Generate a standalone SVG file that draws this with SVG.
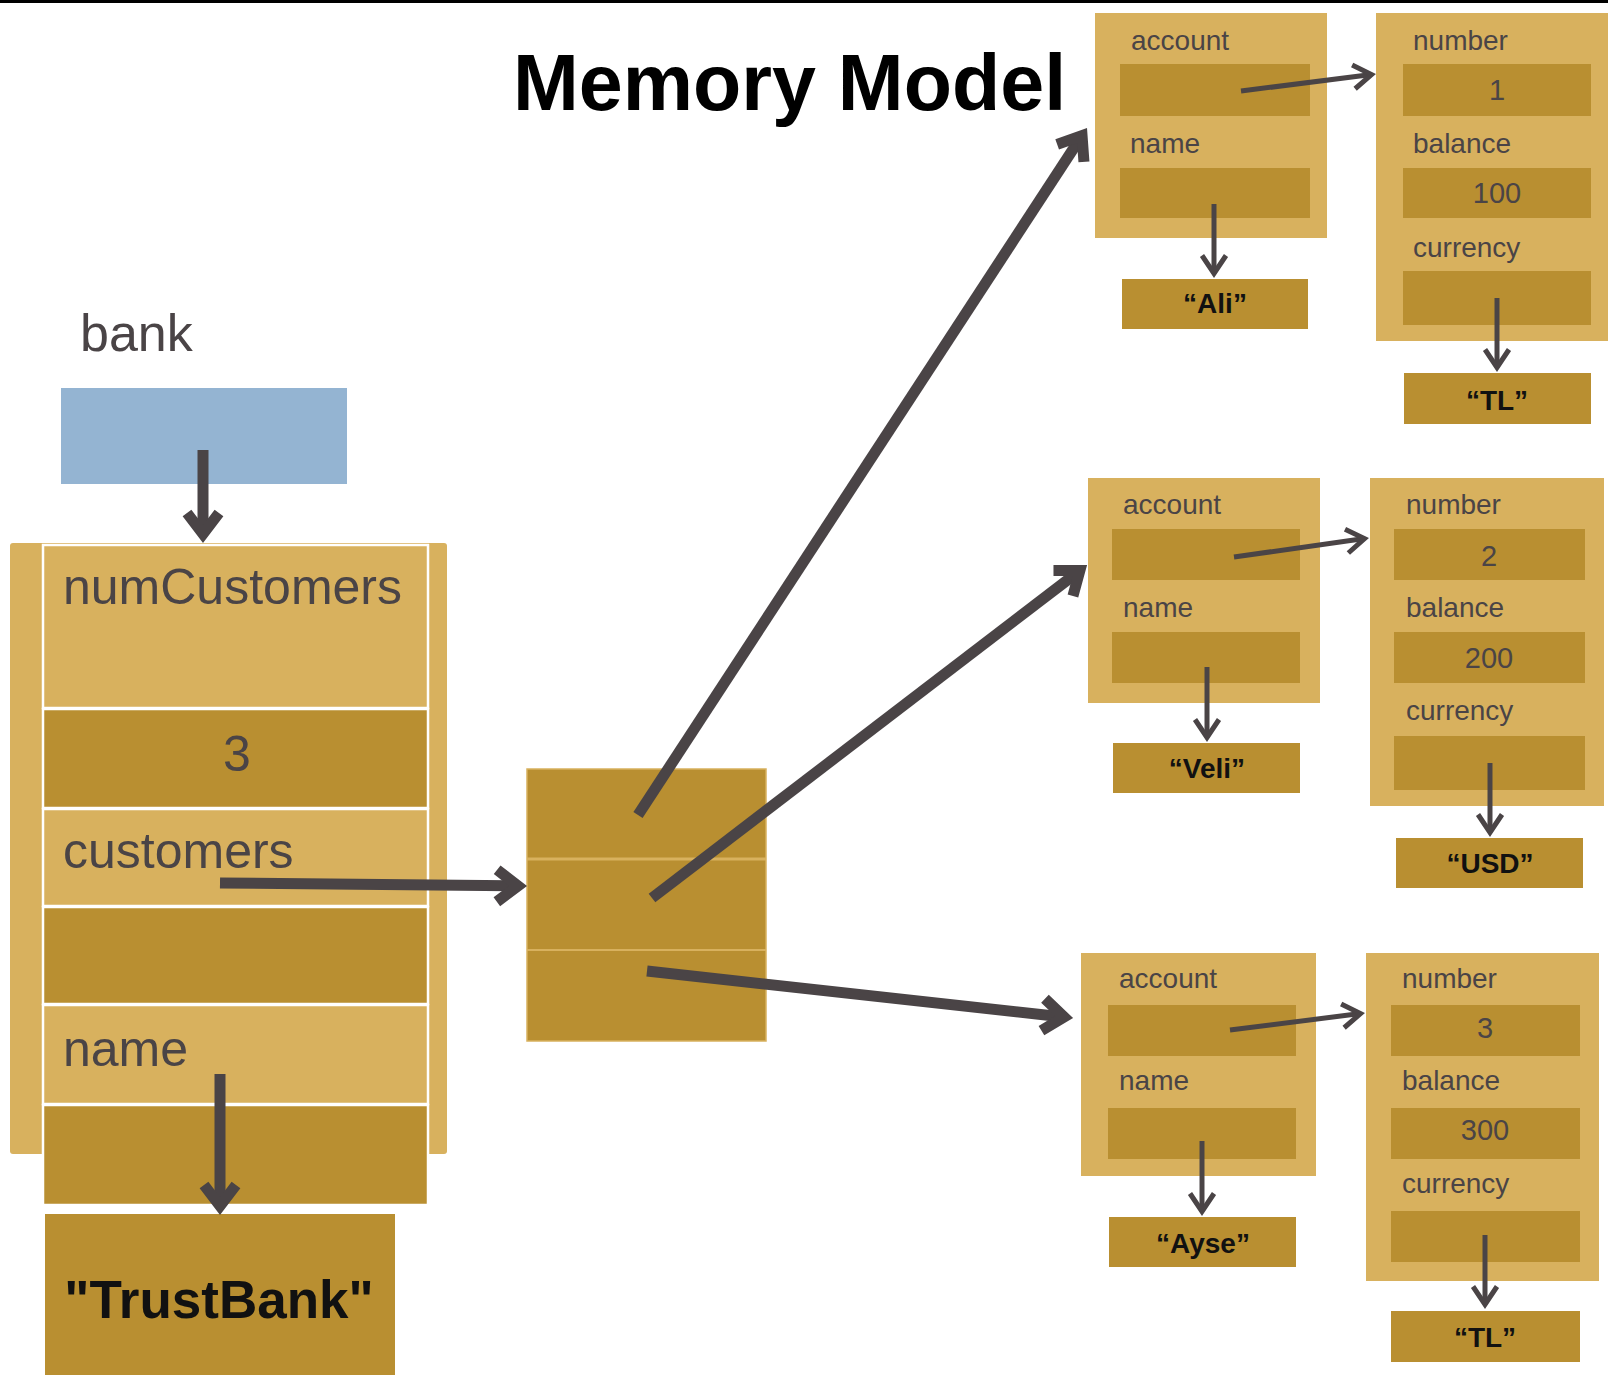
<svg xmlns="http://www.w3.org/2000/svg" width="1608" height="1375" viewBox="0 0 1608 1375">
  <style>
    .lt { fill: #D8B15E; }
    .dk { fill: #B98F31; }
    .cell { stroke: #FFFFFF; stroke-width: 2.5; }
    .lbl { font-family: "Liberation Sans", Arial, sans-serif; fill: #4A4446; }
    .sm { font-size: 28px; }
    .big { font-size: 50px; }
    .str { font-family: "Liberation Sans", Arial, sans-serif; font-weight: bold; fill: #111111; text-anchor: middle; font-size: 28px; }
    .str.huge { font-size: 53px; }
    .val { text-anchor: middle; font-size: 29px; }
    .thick { fill: none; stroke: #4A4446; stroke-width: 11; }
    .thin { fill: none; stroke: #4A4446; stroke-width: 5; }
  </style>
  <defs>
    <!-- heavy chevron head; its point sits 12px past the end of the line -->
    <marker id="headThick" markerUnits="userSpaceOnUse" viewBox="-30 -30 60 60" markerWidth="60" markerHeight="60" refX="0" refY="0" orient="auto" overflow="visible">
      <path d="M-18,-16 L3,0 L-18,16" fill="none" stroke="#4A4446" stroke-width="11" stroke-linejoin="miter"/>
    </marker>
    <!-- light open chevron head; its point sits 4.5px past the end of the line -->
    <marker id="headThin" markerUnits="userSpaceOnUse" viewBox="-30 -30 60 60" markerWidth="60" markerHeight="60" refX="0" refY="0" orient="auto" overflow="visible">
      <path d="M-18,-12 L0,0 L-18,12" fill="none" stroke="#4A4446" stroke-width="5" stroke-linejoin="miter"/>
    </marker>
  </defs>

  <rect x="0" y="0" width="1608" height="1375" fill="#FFFFFF"/>
  <rect x="0" y="0" width="1608" height="3" fill="#000000"/>

  <text x="513" y="110" font-family="'Liberation Sans', Arial, sans-serif" font-weight="bold" font-size="79" fill="#000000">Memory Model</text>

  <!-- bank variable -->
  <g id="bank">
    <text class="lbl" x="80" y="351" font-size="52">bank</text>
    <rect x="61" y="388" width="286" height="96" fill="#94B4D2"/>
  </g>

  <!-- Bank object -->
  <g id="bank-object">
    <rect class="lt" x="10" y="543" width="437" height="611" rx="3"/>
    <rect class="lt cell" x="43" y="545" width="385" height="163"/>
    <rect class="dk cell" x="43" y="709" width="385" height="99"/>
    <rect class="lt cell" x="43" y="809" width="385" height="97"/>
    <rect class="dk cell" x="43" y="907" width="385" height="97"/>
    <rect class="lt cell" x="43" y="1005" width="385" height="99"/>
    <rect class="dk cell" x="43" y="1105" width="385" height="100"/>
    <text class="lbl big" x="63" y="604">numCustomers</text>
    <text class="lbl big" x="237" y="771" text-anchor="middle">3</text>
    <text class="lbl big" x="63" y="868">customers</text>
    <text class="lbl big" x="63" y="1066">name</text>
  </g>

  <g id="trustbank">
    <rect class="dk" x="45" y="1214" width="350" height="170"/>
    <text class="str huge" x="219" y="1318">"TrustBank"</text>
  </g>

  <!-- customers array -->
  <g id="customers-array">
    <rect class="dk" x="527" y="769" width="239" height="272" stroke="#D8B15E" stroke-width="1.5"/>
    <line x1="527" y1="859" x2="766" y2="859" stroke="#D8B15E" stroke-width="3"/>
    <line x1="527" y1="950" x2="766" y2="950" stroke="#D8B15E" stroke-width="2"/>
  </g>

  <!-- customer 1 -->
  <g id="customer1">
    <rect class="lt" x="1095" y="13" width="232" height="225"/>
    <rect class="dk" x="1120" y="64" width="190" height="52"/>
    <rect class="dk" x="1120" y="168" width="190" height="50"/>
    <text class="lbl sm" x="1131" y="50">account</text>
    <text class="lbl sm" x="1130" y="153">name</text>
  </g>
  <g id="name1">
    <rect class="dk" x="1122" y="279" width="186" height="50"/>
    <text class="str" x="1215" y="313">“Ali”</text>
  </g>
  <g id="account1">
    <rect class="lt" x="1376" y="13" width="240" height="328"/>
    <rect class="dk" x="1403" y="64" width="188" height="52"/>
    <rect class="dk" x="1403" y="168" width="188" height="50"/>
    <rect class="dk" x="1403" y="271" width="188" height="54"/>
    <text class="lbl sm" x="1413" y="50">number</text>
    <text class="lbl sm" x="1413" y="153">balance</text>
    <text class="lbl sm" x="1413" y="257">currency</text>
    <text class="lbl val" x="1497" y="100">1</text>
    <text class="lbl val" x="1497" y="203">100</text>
  </g>
  <g id="currency1">
    <rect class="dk" x="1404" y="373" width="187" height="51"/>
    <text class="str" x="1497" y="410">“TL”</text>
  </g>

  <!-- customer 2 -->
  <g id="customer2">
    <rect class="lt" x="1088" y="478" width="232" height="225"/>
    <rect class="dk" x="1112" y="529" width="188" height="51"/>
    <rect class="dk" x="1112" y="632" width="188" height="51"/>
    <text class="lbl sm" x="1123" y="514">account</text>
    <text class="lbl sm" x="1123" y="617">name</text>
  </g>
  <g id="name2">
    <rect class="dk" x="1113" y="743" width="187" height="50"/>
    <text class="str" x="1207" y="778">“Veli”</text>
  </g>
  <g id="account2">
    <rect class="lt" x="1370" y="478" width="234" height="328"/>
    <rect class="dk" x="1394" y="529" width="191" height="51"/>
    <rect class="dk" x="1394" y="632" width="191" height="51"/>
    <rect class="dk" x="1394" y="736" width="191" height="54"/>
    <text class="lbl sm" x="1406" y="514">number</text>
    <text class="lbl sm" x="1406" y="617">balance</text>
    <text class="lbl sm" x="1406" y="720">currency</text>
    <text class="lbl val" x="1489" y="566">2</text>
    <text class="lbl val" x="1489" y="668">200</text>
  </g>
  <g id="currency2">
    <rect class="dk" x="1396" y="838" width="187" height="50"/>
    <text class="str" x="1490" y="873">“USD”</text>
  </g>

  <!-- customer 3 -->
  <g id="customer3">
    <rect class="lt" x="1081" y="953" width="235" height="223"/>
    <rect class="dk" x="1108" y="1005" width="188" height="51"/>
    <rect class="dk" x="1108" y="1108" width="188" height="51"/>
    <text class="lbl sm" x="1119" y="988">account</text>
    <text class="lbl sm" x="1119" y="1090">name</text>
  </g>
  <g id="name3">
    <rect class="dk" x="1109" y="1217" width="187" height="50"/>
    <text class="str" x="1203" y="1253">“Ayse”</text>
  </g>
  <g id="account3">
    <rect class="lt" x="1366" y="953" width="233" height="328"/>
    <rect class="dk" x="1391" y="1005" width="189" height="51"/>
    <rect class="dk" x="1391" y="1108" width="189" height="51"/>
    <rect class="dk" x="1391" y="1211" width="189" height="51"/>
    <text class="lbl sm" x="1402" y="988">number</text>
    <text class="lbl sm" x="1402" y="1090">balance</text>
    <text class="lbl sm" x="1402" y="1193">currency</text>
    <text class="lbl val" x="1485" y="1038">3</text>
    <text class="lbl val" x="1485" y="1140">300</text>
  </g>
  <g id="currency3">
    <rect class="dk" x="1391" y="1311" width="189" height="51"/>
    <text class="str" x="1485" y="1347">“TL”</text>
  </g>

  <!-- references -->
  <g id="connectors">
    <line class="thick" x1="203" y1="450" x2="203" y2="531" marker-end="url(#headThick)"/>
    <line class="thick" x1="220" y1="883" x2="515" y2="885.9" marker-end="url(#headThick)"/>
    <line class="thick" x1="220" y1="1074" x2="220" y2="1203" marker-end="url(#headThick)"/>
    <line class="thick" x1="638" y1="815" x2="1080.4" y2="138" marker-end="url(#headThick)"/>
    <line class="thick" x1="652" y1="898" x2="1077.5" y2="572.3" marker-end="url(#headThick)"/>
    <line class="thick" x1="647" y1="971" x2="1061.1" y2="1016.7" marker-end="url(#headThick)"/>

    <line class="thin" x1="1241" y1="91" x2="1371.5" y2="74.6" marker-end="url(#headThin)"/>
    <line class="thin" x1="1214" y1="204" x2="1214" y2="273.5" marker-end="url(#headThin)"/>
    <line class="thin" x1="1497" y1="298" x2="1497" y2="367.5" marker-end="url(#headThin)"/>

    <line class="thin" x1="1234" y1="557" x2="1364.5" y2="538.6" marker-end="url(#headThin)"/>
    <line class="thin" x1="1207" y1="667" x2="1207" y2="737.5" marker-end="url(#headThin)"/>
    <line class="thin" x1="1490" y1="763" x2="1490" y2="832.5" marker-end="url(#headThin)"/>

    <line class="thin" x1="1230" y1="1030" x2="1360.5" y2="1013.6" marker-end="url(#headThin)"/>
    <line class="thin" x1="1202" y1="1141" x2="1202" y2="1211.5" marker-end="url(#headThin)"/>
    <line class="thin" x1="1485" y1="1235" x2="1485" y2="1304.5" marker-end="url(#headThin)"/>
  </g>
</svg>
